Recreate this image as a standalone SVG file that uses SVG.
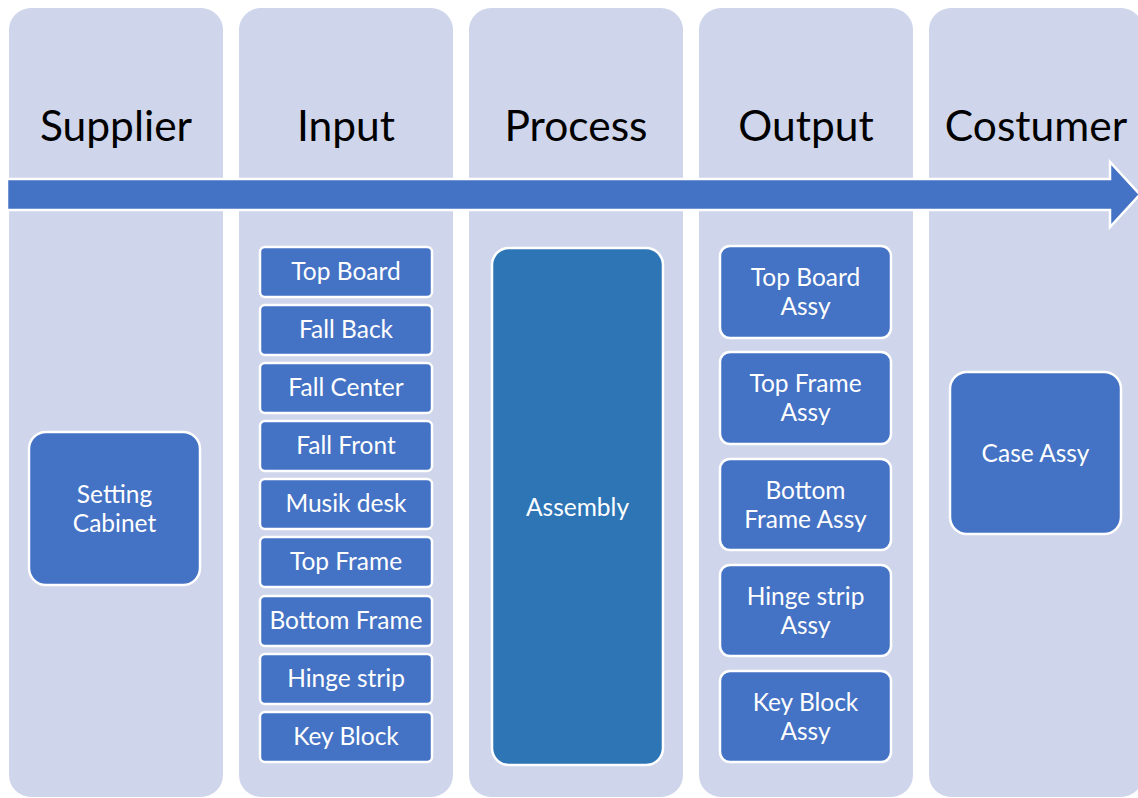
<svg xmlns="http://www.w3.org/2000/svg" width="1138" height="798" viewBox="0 0 1138 798">
  <style>
    .lane { fill: #CFD5EA; }
    .head { font-family: Lato, "Liberation Sans", sans-serif; font-size: 42.5px; fill: #000; text-anchor: middle; }
    .box { fill: #4472C4; stroke: #FFFFFF; stroke-width: 2.5; }
    .proc { fill: #2E75B6; stroke: #FFFFFF; stroke-width: 2.5; }
    .lbl { font-family: Lato, "Liberation Sans", sans-serif; font-size: 24.5px; fill: #FFFFFF; text-anchor: middle; }
    .flow { fill: #4472C4; stroke: #FFFFFF; stroke-width: 2.5; }
  </style>
  <rect width="1138" height="798" fill="#FFFFFF"/>

  <!-- Swim lanes -->
  <g id="lanes">
    <rect class="lane" x="9" y="8" width="214" height="789" rx="22"/>
    <rect class="lane" x="239" y="8" width="214" height="789" rx="22"/>
    <rect class="lane" x="469" y="8" width="214" height="789" rx="22"/>
    <rect class="lane" x="699" y="8" width="214" height="789" rx="22"/>
    <rect class="lane" x="929" y="8" width="214" height="789" rx="22"/>
  </g>

  <g id="headers">
    <text class="head" x="116" y="141">Supplier</text>
    <text class="head" x="346" y="141">Input</text>
    <text class="head" x="576" y="141">Process</text>
    <text class="head" x="806" y="141">Output</text>
    <text class="head" x="1036" y="141">Costumer</text>
  </g>

  <!-- Flow arrow across the lanes -->
  <g id="connectors">
    <polygon class="flow" points="7,179 1110,179 1110,162 1140,194.5 1110,227 1110,210 7,210"/>
  </g>

  <!-- Supplier -->
  <g id="setting-cabinet">
    <rect class="box" x="29" y="432" width="171" height="153" rx="17"/>
    <text class="lbl" x="114.5" y="503">Setting</text>
    <text class="lbl" x="114.5" y="532">Cabinet</text>
  </g>

  <!-- Input -->
  <g id="in-top-board"><rect class="box" x="260" y="247" width="172" height="50" rx="5"/><text class="lbl" x="346" y="280">Top Board</text></g>
  <g id="in-fall-back"><rect class="box" x="260" y="305" width="172" height="50" rx="5"/><text class="lbl" x="346" y="338">Fall Back</text></g>
  <g id="in-fall-center"><rect class="box" x="260" y="363" width="172" height="50" rx="5"/><text class="lbl" x="346" y="396">Fall Center</text></g>
  <g id="in-fall-front"><rect class="box" x="260" y="421" width="172" height="50" rx="5"/><text class="lbl" x="346" y="454">Fall Front</text></g>
  <g id="in-musik-desk"><rect class="box" x="260" y="479" width="172" height="50" rx="5"/><text class="lbl" x="346" y="512">Musik desk</text></g>
  <g id="in-top-frame"><rect class="box" x="260" y="537" width="172" height="50" rx="5"/><text class="lbl" x="346" y="570">Top Frame</text></g>
  <g id="in-bottom-frame"><rect class="box" x="260" y="596" width="172" height="50" rx="5"/><text class="lbl" x="346" y="629">Bottom Frame</text></g>
  <g id="in-hinge-strip"><rect class="box" x="260" y="654" width="172" height="50" rx="5"/><text class="lbl" x="346" y="687">Hinge strip</text></g>
  <g id="in-key-block"><rect class="box" x="260" y="712" width="172" height="50" rx="5"/><text class="lbl" x="346" y="745">Key Block</text></g>

  <!-- Process -->
  <g id="assembly">
    <rect class="proc" x="492" y="248" width="171" height="517" rx="17"/>
    <text class="lbl" x="577.5" y="516">Assembly</text>
  </g>

  <!-- Output -->
  <g id="out-top-board"><rect class="box" x="720" y="246" width="171" height="92" rx="10"/><text class="lbl" x="805.5" y="286">Top Board</text><text class="lbl" x="805.5" y="315">Assy</text></g>
  <g id="out-top-frame"><rect class="box" x="720" y="352" width="171" height="92" rx="10"/><text class="lbl" x="805.5" y="392">Top Frame</text><text class="lbl" x="805.5" y="421">Assy</text></g>
  <g id="out-bottom-frame"><rect class="box" x="720" y="459" width="171" height="91" rx="10"/><text class="lbl" x="805.5" y="499">Bottom</text><text class="lbl" x="805.5" y="528">Frame Assy</text></g>
  <g id="out-hinge-strip"><rect class="box" x="720" y="565" width="171" height="91" rx="10"/><text class="lbl" x="805.5" y="605">Hinge strip</text><text class="lbl" x="805.5" y="634">Assy</text></g>
  <g id="out-key-block"><rect class="box" x="720" y="671" width="171" height="91" rx="10"/><text class="lbl" x="805.5" y="711">Key Block</text><text class="lbl" x="805.5" y="740">Assy</text></g>

  <!-- Costumer -->
  <g id="case-assy">
    <rect class="box" x="950" y="372" width="171" height="162" rx="17"/>
    <text class="lbl" x="1035.5" y="462">Case Assy</text>
  </g>
</svg>
